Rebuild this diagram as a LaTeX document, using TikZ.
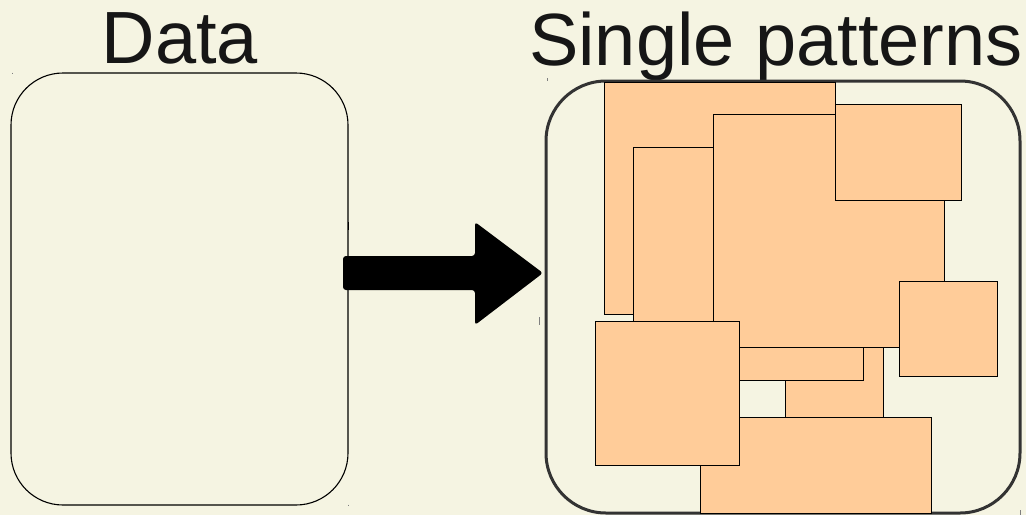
\documentclass[tikz,border=0pt]{standalone}
\usepackage{fontspec}
\setmainfont{Liberation Sans}
\definecolor{paper}{HTML}{F5F4E2}
\definecolor{peach}{HTML}{FFCC99}
\definecolor{ink}{HTML}{161616}
\definecolor{frame}{HTML}{333333}
\tikzset{
  title/.style={anchor=base, inner sep=0pt, text=ink, font=\fontsize{74}{80}\selectfont},
  patch/.style={draw=black, line width=0.9pt, fill=peach},
  tick/.style={draw=gray, line width=1pt},
}
\begin{document}
\begin{tikzpicture}[x=1pt,y=-1pt]
  % canvas
  \fill[paper] (0,0) rectangle (1026,515);
  \useasboundingbox (0,0) rectangle (1026,515);

  % headings
  \node[title] (tdata) at (180,63) {Data};
  \node[title] (tpat) at (776,65) {Single patterns};

  % input box
  \draw[black, line width=1.1pt, rounded corners=52pt] (11,73) rectangle (348,505);
  \coordinate (dataE) at (343,273);

  % block arrow
  \fill[black, rounded corners=3pt]
    (343,256) -- (475,256) -- (475,222) -- (543,273) -- (475,325)
    -- (475,290) -- (343,290) -- cycle;

  % output frame
  \draw[frame, line width=3pt, rounded corners=60pt] (546,81) rectangle (1020,513);

  % patterns
  \draw[patch] (604,82) rectangle (835,314);
  \draw[patch] (633,147) rectangle (713,330);
  \draw[patch] (785,335) rectangle (883,417);
  \draw[patch] (713,340) rectangle (863,380);
  \draw[patch] (713,114) rectangle (944,347);
  \draw[patch] (835,104) rectangle (961,200);
  \draw[patch] (899,281) rectangle (997,376);
  \draw[patch] (700,417) rectangle (931,513);
  \draw[patch] (595,321) rectangle (739,465);

  % small handle marks
  \draw[tick] (12,72.5) -- (12,74);
  \draw[tick] (348,504.5) -- (348,506);
  \draw[tick] (547,78) -- (547,81);
  \draw[tick] (539.5,317) -- (539.5,325);
  \draw[tick] (1020,510) -- (1020,515);
  \draw[black, line width=1pt] (348,222) -- (348,230);
\end{tikzpicture}
\end{document}
